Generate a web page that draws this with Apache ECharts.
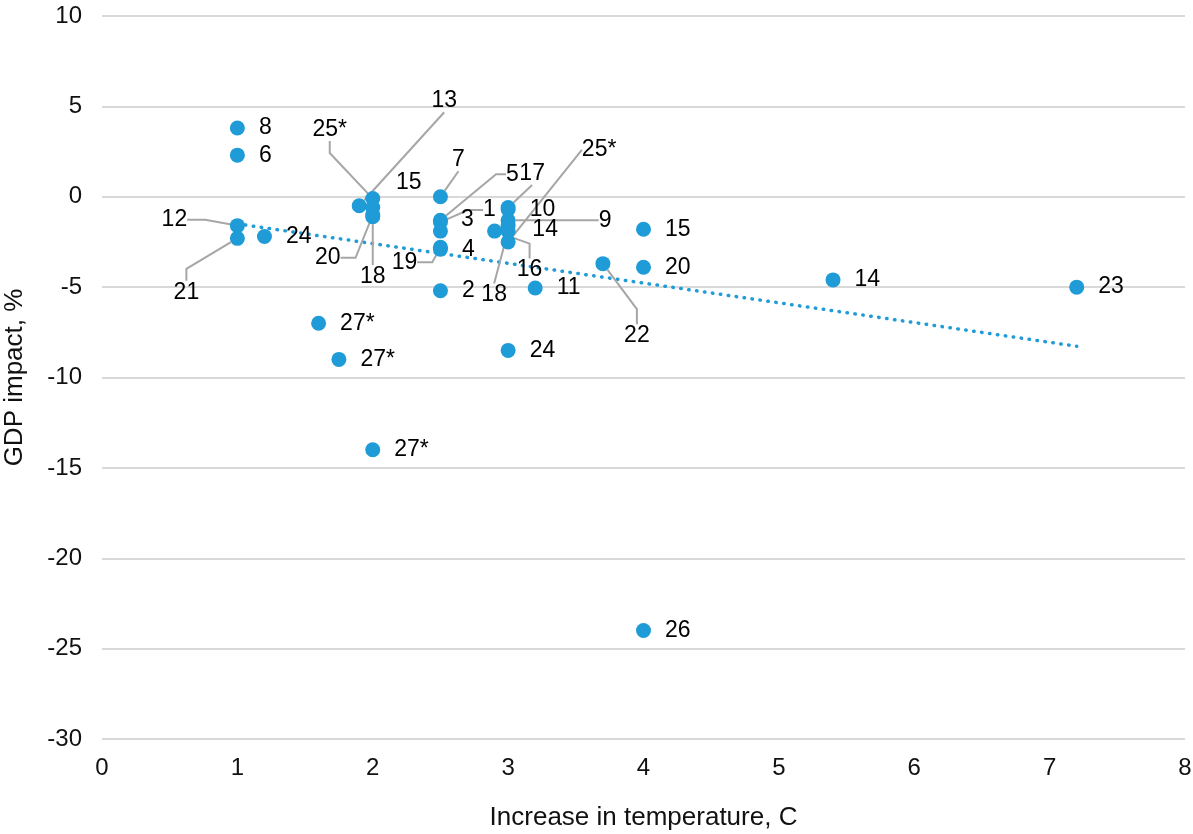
<!DOCTYPE html>
<html>
<head>
<meta charset="utf-8">
<title>GDP impact vs temperature increase</title>
<script src="https://cdn.jsdelivr.net/npm/echarts@6/dist/echarts.min.js"></script>
<style>
    html, body { margin: 0; padding: 0; background: #ffffff; }
    #chartPanel { width: 1193px; height: 834px; }
</style>
</head>
<body>
<div id="chartPanel"></div>
<script>
// study estimates: temperature increase (C) and GDP impact (%)
var tempIncrease = [1, 1, 1, 1, 1.2, 1.9, 2, 2, 2, 2,
    2.5, 2.5, 2.5, 2.5, 2.5, 2.5, 2.5, 3, 3, 3,
    3, 3, 3, 2.9, 3.2, 3, 3.7, 4, 4, 5.4,
    7.2, 4, 1.6, 1.75, 2];
var gdpImpact = [3.8, 2.3, -1.6, -2.3, -2.2, -0.5, -0.1, -0.6, -1.0, -1.1,
    0, -1.3, -1.4, -1.9, -2.8, -2.9, -5.2, -0.6, -0.7, -1.3,
    -1.6, -1.9, -2.5, -1.9, -5.05, -8.5, -3.7, -1.8, -3.9, -4.6,
    -5.0, -24, -7, -9, -14];
var studyLabels = ["8", "6", "12", "21", "24", "13", "25*", "15", "20", "18",
    "7", "5", "1", "3", "19", "4", "2", "17", "10", "9",
    "14", "18", "25*", "16", "11", "24", "22", "15", "20", "14",
    "23", "26", "27*", "27*", "27*"];

// trend line end points
var trendX = [1, 7.2];
var trendY = [-1.5, -8.27];

// axis ticks
var xTicks = { min: 0, max: 8, step: 1 };
var yTicks = { min: -30, max: 10, step: 5 };

// labels moved off their points (offset of label centre, px), with or without a leader
var callouts = {
    2:  { off: [-63, -6],  line: true, len: 18 },
    3:  { off: [-51, 54],  line: true, len: 12 },
    5:  { off: [85, -105], line: true, len: 0 },
    6:  { off: [-43, -69], line: true, len: 12 },
    7:  { off: [36, -25],  line: false },
    8:  { off: [-45, 43],  line: true, len: 15 },
    9:  { off: [0, 60],    line: true, len: 0 },
    10: { off: [18, -37],  line: true, len: 0 },
    11: { off: [72, -46],  line: true, len: 10 },
    12: { off: [49, -12],  line: true, len: 15 },
    13: { off: [27, -11],  line: false },
    14: { off: [-36, 15],  line: true, len: 15 },
    17: { off: [24, -34],  line: true, len: 0 },
    19: { off: [97, 0],    line: true, len: 0 },
    20: { off: [37, 4],    line: false },
    21: { off: [-14, 64],  line: true, len: 0 },
    22: { off: [91, -92],  line: true, len: 0 },
    23: { off: [35, 39],   line: true, len: 15 },
    26: { off: [34, 72],   line: true, len: 15 }
};

var blue = "#1F9BD7";
var leaderGrey = "#A6A6A6";
var textColor = "#111111";
var fontName = "Liberation Sans, Arial, sans-serif";

var points = [];
for (var i = 0; i < tempIncrease.length; i++) {
    var item = { value: [tempIncrease[i], gdpImpact[i]], name: studyLabels[i] };
    var c = callouts[i];
    if (c) {
        item.label = { position: "inside", offset: c.off, align: "center", verticalAlign: "middle" };
        item.labelLine = {
            show: c.line,
            length2: c.len || 0,
            lineStyle: { color: leaderGrey, width: 2 }
        };
    }
    points.push(item);
}

var trendData = [];
for (var k = 0; k < trendX.length; k++) {
    trendData.push([trendX[k], trendY[k]]);
}

var chart = echarts.init(document.getElementById("chartPanel"), null, { renderer: "canvas" });
var option = {
    animation: false,
    backgroundColor: "#ffffff",
    textStyle: { fontFamily: fontName },
    grid: {
        left: 102,
        right: 8,
        top: 16,
        bottom: 95,
        containLabel: false,
        outerBoundsMode: "none"
    },
    xAxis: {
        type: "value",
        min: xTicks.min,
        max: xTicks.max,
        interval: xTicks.step,
        name: "Increase in temperature, C",
        nameLocation: "middle",
        nameGap: 66,
        nameTextStyle: { fontSize: 26, color: textColor, fontFamily: fontName },
        axisLine: { show: false },
        axisTick: { show: false },
        splitLine: { show: false },
        axisLabel: { fontSize: 24, color: textColor, margin: 17, fontFamily: fontName }
    },
    yAxis: {
        type: "value",
        min: yTicks.min,
        max: yTicks.max,
        interval: yTicks.step,
        name: "GDP impact, %",
        nameLocation: "middle",
        nameGap: 74,
        nameTextStyle: { fontSize: 26, color: textColor, fontFamily: fontName },
        axisLine: { show: false },
        axisTick: { show: false },
        splitLine: { lineStyle: { color: "#D9D9D9", width: 2 } },
        axisLabel: { fontSize: 24, color: textColor, margin: 20, fontFamily: fontName }
    },
    series: [{
        // linear trend
        type: "line",
        data: trendData,
        symbol: "none",
        silent: true,
        z: 1,
        lineStyle: { color: blue, width: 3.5, type: [0.5, 7.5], cap: "round" }
    }, {
        type: "scatter",
        data: points,
        symbol: "circle",
        symbolSize: 15,
        z: 2,
        itemStyle: { color: blue, opacity: 1 },
        label: {
            show: true,
            position: "right",
            distance: 14,
            formatter: "{b}",
            fontSize: 23,
            color: "#000000",
            fontFamily: fontName
        },
        labelLine: {
            show: false,
            lineStyle: { color: leaderGrey, width: 2 }
        }
    }]
};
chart.setOption(option);
</script>
</body>
</html>
